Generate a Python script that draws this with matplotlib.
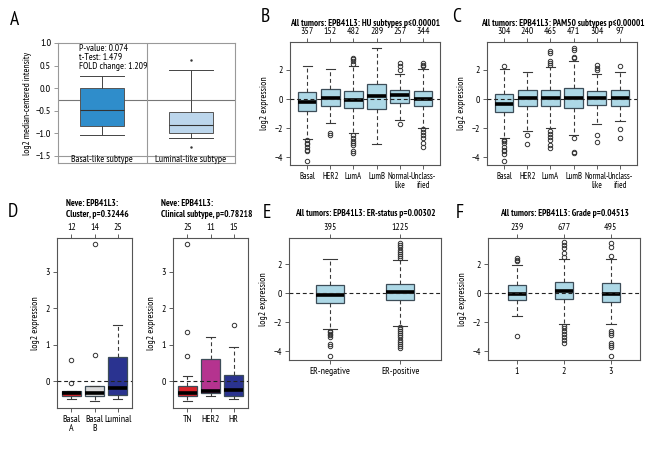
import numpy as np
import matplotlib
matplotlib.use("Agg")
import matplotlib.pyplot as plt
from matplotlib import font_manager

# pick a condensed sans face if one is installed
installed = {f.name for f in font_manager.fontManager.ttflist}
prefs = ["PT Sans Narrow", "Fira Sans Condensed", "Roboto Condensed",
         "Liberation Sans Narrow", "Encode Sans Condensed", "Archivo Narrow",
         "Asap Condensed", "Open Sans Condensed", "Barlow Semi Condensed",
         "IBM Plex Sans Condensed", "DejaVu Sans"]
FONT = next(p for p in prefs if p in installed)
plt.rcParams['font.family'] = [FONT, 'DejaVu Sans']
plt.rcParams['font.size'] = 7
plt.rcParams['axes.unicode_minus'] = True

# ---- panel A (Oncomine style) ----
a_names = ["Basal-like subtype", "Luminal-like subtype"]
a_q1 = [-0.84, -1.00]
a_med = [-0.48, -0.82]
a_q3 = [0.0, -0.52]
a_lo = [-1.04, -1.10]
a_hi = [0.27, 0.40]
a_fliers = [[], [0.63, -1.30]]
a_colors = ["#2f8dcb", "#bcd6ec"]
a_ref = -0.26
a_text = "P-value: 0.074\nt-Test: 1.479\nFOLD change: 1.209"

# ---- panel B: HU subtypes ----
b_names = ["Basal", "HER2", "LumA", "LumB", "Normal-\nlike", "Unclass-\nified"]
b_counts = [357, 152, 482, 289, 257, 344]
b_q1 = [-0.85, -0.45, -0.6, -0.7, -0.25, -0.5]
b_med = [-0.2, 0.1, -0.1, 0.2, 0.25, 0.0]
b_q3 = [0.45, 0.7, 0.55, 1.0, 0.6, 0.55]
b_lo = [-2.75, -1.65, -2.35, -3.1, -1.45, -2.0]
b_hi = [2.3, 2.1, 2.3, 3.5, 1.7, 2.1]
b_fliers = [[-2.85, -3.0, -3.1, -3.3, -3.5, -3.6, -4.3],
            [-2.35, -2.5],
            [2.4, 2.6, 2.75, 2.85, -2.5, -2.7, -2.9, -3.0, -3.2, -3.6, -3.7],
            [],
            [2.0, 2.25, 2.5, -1.7],
            [2.25, 2.35, 2.45, -2.1, -2.3, -2.5, -2.7, -3.0, -3.3]]

# ---- panel C: PAM50 subtypes ----
c_names = b_names
c_counts = [304, 240, 465, 471, 304, 97]
c_q1 = [-0.9, -0.5, -0.45, -0.6, -0.4, -0.45]
c_med = [-0.35, 0.05, 0.05, 0.1, 0.1, 0.1]
c_q3 = [0.35, 0.65, 0.6, 0.75, 0.55, 0.6]
c_lo = [-2.7, -2.2, -2.0, -2.5, -1.75, -1.55]
c_hi = [2.1, 1.85, 2.2, 2.6, 1.75, 1.85]
c_fliers = [[2.25, -2.8, -2.9, -3.0, -3.3, -3.5, -3.6, -3.8, -4.3],
            [-2.5, -3.1],
            [2.35, 2.45, 2.6, 3.2, 3.3, -2.2, -2.4, -2.6, -2.8, -3.2, -3.4],
            [2.8, 2.9, 3.4, 3.5, -2.7, -3.65, -3.75],
            [2.0, 2.15, 2.35, -2.45, -2.95],
            [2.3, -2.1, -2.7]]

# ---- panel D: Neve cluster / clinical subtype ----
d1_names = ["Basal\nA", "Basal\nB", "Luminal"]
d1_counts = [12, 14, 25]
d1_q1 = [-0.42, -0.41, -0.38]
d1_med = [-0.34, -0.34, -0.18]
d1_q3 = [-0.27, -0.15, 0.66]
d1_lo = [-0.5, -0.56, -0.49]
d1_hi = [-0.27, -0.15, 1.53]
d1_fliers = [[0.58, -0.05], [0.7, 3.75], []]
d1_colors = ["#d8232a", "#d9d9d9", "#2a3390"]

d2_names = ["TN", "HER2", "HR"]
d2_counts = [25, 11, 15]
d2_q1 = [-0.4, -0.32, -0.4]
d2_med = [-0.34, -0.27, -0.25]
d2_q3 = [-0.15, 0.6, 0.16]
d2_lo = [-0.56, -0.4, -0.48]
d2_hi = [0.13, 1.2, 0.93]
d2_fliers = [[0.68, 1.33, 3.75], [], [1.53]]
d2_colors = ["#d8232a", "#b5338f", "#2a3390"]

# ---- panel E: ER status ----
e_names = ["ER-negative", "ER-positive"]
e_counts = [395, 1225]
e_q1 = [-0.69, -0.5]
e_med = [-0.12, 0.05]
e_q3 = [0.53, 0.62]
e_lo = [-2.48, -2.23]
e_hi = [2.35, 2.3]
e_fliers = [[-2.6, -2.7, -2.8, -2.9, -3.0, -3.5, -3.65, -4.3],
            [2.4, 2.55, 2.7, 2.85, 3.0, 3.15, 3.3, 3.45,
             -2.3, -2.45, -2.6, -2.75, -2.9, -3.05, -3.2, -3.35, -3.5, -3.65, -3.8]]

# ---- panel F: grade ----
f_names = ["1", "2", "3"]
f_counts = [239, 677, 495]
f_q1 = [-0.44, -0.41, -0.6]
f_med = [-0.05, 0.18, -0.05]
f_q3 = [0.53, 0.74, 0.69]
f_lo = [-1.6, -2.1, -2.1]
f_hi = [1.93, 2.35, 2.35]
f_fliers = [[2.2, 2.3, 2.4, -2.95],
            [2.5, 2.8, 3.1, 3.3, 3.5, -2.25, -2.4, -2.6, -2.8, -3.0, -3.2, -3.4],
            [2.55, 3.2, 3.45, -2.6, -2.75, -2.9, -3.4, -3.55, -3.7, -4.3]]

W, H = 670, 450
fig = plt.figure(figsize=(W / 100, H / 100), dpi=100)


def rect(x0, y0, x1, y1):
    return [x0 / W, 1 - y1 / H, (x1 - x0) / W, (y1 - y0) / H]


def stats(q1, med, q3, lo, hi, fl):
    return [dict(q1=a, med=b, q3=c, whislo=d, whishi=e, fliers=f)
            for a, b, c, d, e, f in zip(q1, med, q3, lo, hi, fl)]


def rbox(ax, st, names, counts, colors, width, ylim, yticks, xls=7):
    n = len(st)
    pos = np.arange(1, n + 1)
    arts = ax.bxp(st, positions=pos, widths=width, capwidths=width * 0.5,
                  patch_artist=True, manage_ticks=False,
                  boxprops=dict(edgecolor="#3d4d58", lw=0.9),
                  medianprops=dict(color="black", lw=2.6, solid_capstyle="butt"),
                  whiskerprops=dict(color="#3a3a3a", lw=0.8, ls=(0, (3.5, 2.5))),
                  capprops=dict(color="#3a3a3a", lw=0.8),
                  flierprops=dict(marker="o", mfc="none", mec="#333333",
                                  ms=3.2, mew=0.7))
    for p, c in zip(arts["boxes"], colors):
        p.set_facecolor(c)
    ax.axhline(0, color="#222222", lw=0.8, ls=(0, (3.5, 2.5)), zorder=4)
    pad = 0.04 * n
    ax.set_xlim(0.5 - pad, n + 0.5 + pad)
    ax.set_ylim(*ylim)
    ax.set_yticks(yticks)
    ax.set_yticklabels([str(t).replace("-", "\u2212") for t in yticks])
    ax.set_xticks(pos)
    ax.set_xticklabels(names, linespacing=1.0)
    ax.tick_params(length=3, width=0.6, color="#444444", pad=2, labelsize=7)
    ax.tick_params(axis="x", labelsize=xls)
    for s in ax.spines.values():
        s.set_color("#555555")
        s.set_linewidth(0.8)
    top = ax.secondary_xaxis("top")
    top.set_xticks(pos)
    top.set_xticklabels([str(c) for c in counts])
    top.tick_params(length=3, width=0.6, color="#444444", pad=1.5, labelsize=7)
    top.spines["top"].set_visible(False)
    ax.set_ylabel("log2 expression", fontsize=7, labelpad=4)


def title(x, y, s):
    fig.text(x / W, 1 - y / H, s, ha="center", va="center", fontsize=6.6,
             fontweight="bold", multialignment="left", linespacing=1.15)


def letter(x, y, s):
    fig.text(x / W, 1 - y / H, s, ha="center", va="center", fontsize=14)


# ---- A ----
axA = fig.add_axes(rect(58, 43, 235, 163))
posA = np.arange(1, 3)
artA = axA.bxp(stats(a_q1, a_med, a_q3, a_lo, a_hi, a_fliers), positions=posA,
               widths=0.5, capwidths=0.5, patch_artist=True, manage_ticks=False,
               boxprops=dict(edgecolor="#555555", lw=0.7),
               medianprops=dict(color="#333333", lw=0.8),
               whiskerprops=dict(color="#444444", lw=0.7),
               capprops=dict(color="#444444", lw=0.7),
               flierprops=dict(marker=".", mfc="#333333", mec="#333333", ms=1.5))
for p, c in zip(artA["boxes"], a_colors):
    p.set_facecolor(c)
axA.axhline(a_ref, color="#777777", lw=0.8, zorder=0)
axA.axhline(-1.5, color="#999999", lw=0.8, zorder=0)
axA.axvline(1.5, color="#999999", lw=0.8, zorder=0)
axA.set_xlim(0.5, 2.5)
axA.set_ylim(-1.66, 1.0)
axA.set_yticks([1.0, 0.5, 0.0, -0.5, -1.0, -1.5])
axA.set_yticklabels(["1.0", "0.5", "0.0", "\u22120.5", "\u22121.0", "\u22121.5"])
axA.set_xticks([])
axA.tick_params(axis="y", length=3, width=0.6, color="#888888", pad=2, labelsize=7.5)
for s in axA.spines.values():
    s.set_color("#999999")
    s.set_linewidth(0.8)
for xp, nm in zip(posA, a_names):
    axA.text(xp, -1.585, nm, ha="center", va="center", fontsize=7)
axA.text(0.74, 0.97, a_text, ha="left", va="top", fontsize=7, linespacing=1.0)
axA.set_ylabel("log2 median-centered intensity", fontsize=6.8, labelpad=3)
letter(15, 20, "A")

# ---- B ----
axB = fig.add_axes(rect(290, 42, 440, 165))
rbox(axB, stats(b_q1, b_med, b_q3, b_lo, b_hi, b_fliers), b_names, b_counts,
     ["#add8e6"] * 6, 0.8, (-4.55, 3.93), [-4, -2, 0, 2], xls=6.3)
title(365, 23, "All tumors: EPB41L3: HU subtypes p\u22640.00001")
letter(265, 17, "B")

# ---- C ----
axC = fig.add_axes(rect(487, 42, 637, 165))
rbox(axC, stats(c_q1, c_med, c_q3, c_lo, c_hi, c_fliers), c_names, c_counts,
     ["#add8e6"] * 6, 0.8, (-4.55, 3.93), [-4, -2, 0, 2], xls=6.3)
title(563, 23, "All tumors: EPB41L3: PAM50 subtypes p\u22640.00001")
letter(457, 17, "C")

# ---- D ----
axD1 = fig.add_axes(rect(57, 238, 132, 408))
rbox(axD1, stats(d1_q1, d1_med, d1_q3, d1_lo, d1_hi, d1_fliers), d1_names,
     d1_counts, d1_colors, 0.8, (-0.74, 3.92), [0, 1, 2, 3])
title(97, 209, "Neve: EPB41L3:\nCluster, p=0.32446")
axD2 = fig.add_axes(rect(173, 238, 248, 408))
rbox(axD2, stats(d2_q1, d2_med, d2_q3, d2_lo, d2_hi, d2_fliers), d2_names,
     d2_counts, d2_colors, 0.8, (-0.74, 3.92), [0, 1, 2, 3])
title(207, 209, "Neve: EPB41L3:\nClinical subtype, p=0.78218")
letter(13, 212, "D")

# ---- E ----
axE = fig.add_axes(rect(289, 238, 441, 360))
rbox(axE, stats(e_q1, e_med, e_q3, e_lo, e_hi, e_fliers), e_names, e_counts,
     ["#add8e6"] * 2, 0.4, (-4.6, 3.8), [-4, -2, 0, 2])
title(365, 214, "All tumors: EPB41L3: ER-status p=0.00302")
letter(267, 213, "E")

# ---- F ----
axF = fig.add_axes(rect(488, 238, 640, 360))
rbox(axF, stats(f_q1, f_med, f_q3, f_lo, f_hi, f_fliers), f_names, f_counts,
     ["#add8e6"] * 3, 0.4, (-4.6, 3.8), [-4, -2, 0, 2])
title(564, 214, "All tumors: EPB41L3: Grade p=0.04513")
letter(460, 213, "F")

fig.savefig("out.png", dpi=100)
